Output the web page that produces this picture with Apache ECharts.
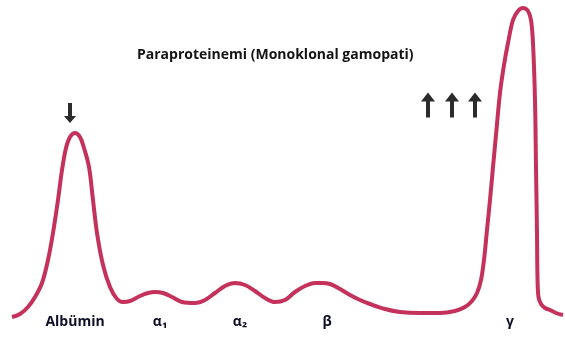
<!DOCTYPE html>
<html>
<head>
<meta charset="utf-8">
<script src="https://cdn.jsdelivr.net/npm/echarts@6/dist/echarts.min.js"></script>
<style>
  html, body { margin: 0; padding: 0; background: #fff; }
  #chart { width: 565px; height: 340px; }
</style>
</head>
<body>
<div id="chart"></div>
<script>
// Serum protein electrophoresis trace: mobility (x) vs. relative density (y)
const mobility = [
  12, 20, 28, 35, 42, 48, 53, 58, 62, 66, 70, 75, 80, 84, 89, 93, 97, 103, 110, 117,
  123, 130, 140, 148, 155, 163, 172, 182, 195, 205, 215, 225, 235, 245, 255, 265, 275,
  285, 295, 305, 315, 322, 330, 340, 350, 360, 370, 385, 400, 420, 440, 455, 465, 472,
  477, 481, 484, 487, 490, 493, 496, 500, 504, 508, 513, 518, 523, 528, 531, 533, 535,
  536, 537, 537.5, 538.5, 541, 545, 550, 556, 563
];
const density = [
  -4, -1, 6, 16, 30, 53, 80, 113, 143, 165, 176, 180, 176, 165, 146, 113, 80, 48, 26, 14,
  11, 12, 17, 20, 21, 20, 16, 11, 10, 13, 20, 27, 30, 28, 22, 15, 11,
  13, 21, 27, 30, 30, 29, 24, 18, 13, 9, 4, 1, 0, 0, 2, 6, 12,
  20, 33, 53, 83, 113, 146, 178, 220, 248, 270, 293, 302, 305, 302, 293, 270, 213,
  146, 80, 35, 16, 9, 5, 3, 0, -2
];

// Fraction names and their band positions along the mobility axis
const fractionNames = ['Albümin', 'α\u2081', 'α\u2082', 'β', 'γ'];
const fractionPos = [75, 160, 240, 327, 510];

// Annotation arrows: albumin decreased, gamma increased
const downArrowAt = [[70, 200]];
const upArrowsAt = [[428, 208], [452, 208], [475, 208]];

const titleText = 'Paraproteinemi (Monoklonal gamopati)';

// Arrow outlines (thick shaft + wide triangular head)
const downPath = 'path://M40,0 L80,0 L80,130 L120,130 L60,200 L0,130 L40,130 Z';
const upPath = 'path://M70,0 L140,90 L90,90 L90,250 L50,250 L50,90 L0,90 Z';

const chart = echarts.init(document.getElementById('chart'), null, { renderer: 'canvas' });

const labelY = -9;

chart.setOption({
  animation: false,
  backgroundColor: '#ffffff',
  title: {
    text: titleText,
    left: 132,
    top: 43,
    textStyle: {
      fontFamily: 'Open Sans',
      fontWeight: 'bold',
      fontSize: 14,
      color: '#141414'
    }
  },
  grid: { left: 0, right: 0, top: 3, bottom: 7 },
  xAxis: { type: 'value', min: 0, max: 565, show: false },
  yAxis: { type: 'value', min: -20, max: 310, show: false },
  series: [
    {
      type: 'line',
      data: mobility.map((x, i) => [x, density[i]]),
      smooth: 0.35,
      showSymbol: false,
      lineStyle: { color: '#c4325c', width: 4 },
      markPoint: {
        label: { show: false },
        itemStyle: { color: '#2b2b2b' },
        data: [
          ...downArrowAt.map(c => ({ coord: c, symbol: downPath, symbolSize: [12, 20] })),
          ...upArrowsAt.map(c => ({ coord: c, symbol: upPath, symbolSize: [14, 25] }))
        ]
      }
    },
    {
      type: 'scatter',
      symbolSize: 0,
      silent: true,
      itemStyle: { opacity: 1 },
      data: fractionPos.map((x, i) => ({ value: [x, labelY], name: fractionNames[i] })),
      label: {
        show: true,
        position: 'inside',
        formatter: p => p.name,
        fontFamily: 'Open Sans',
        fontWeight: 'bold',
        fontSize: 14,
        color: '#0e0e26'
      }
    }
  ]
});
</script>
</body>
</html>
